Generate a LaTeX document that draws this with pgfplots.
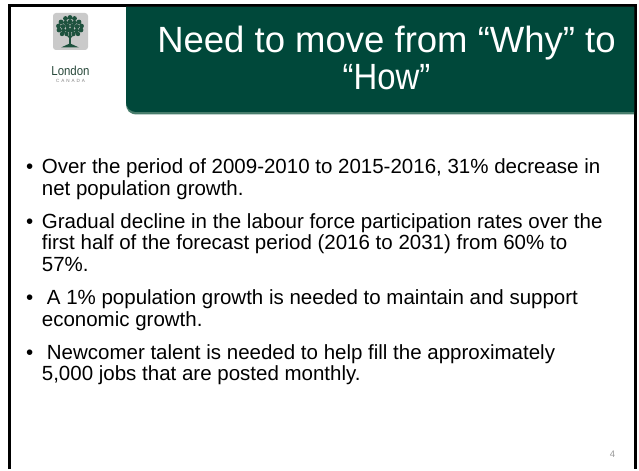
\documentclass[border=0pt]{standalone}
\usepackage{pgfplots}
\pgfplotsset{compat=1.18}
\usepackage{graphicx}
\usepackage{fontspec}
\setmainfont{Liberation Sans}
\definecolor{slidegreen}{RGB}{0,72,58}
\definecolor{slidegreenlight}{RGB}{72,125,108}
\definecolor{logogray}{RGB}{202,202,202}
\definecolor{treegreen}{RGB}{30,82,62}
\definecolor{logotext}{RGB}{40,72,58}
\begin{document}
\begin{tikzpicture}[x=1pt,y=1pt]
\begin{axis}[
  width=639pt, height=469pt, scale only axis,
  xmin=0, xmax=639, ymin=0, ymax=469, y dir=reverse,
  hide axis, clip=false,
]
\fill[white] (axis cs:0,0) rectangle (axis cs:639,469);
% slide frame
\draw[line width=3pt, black] (axis cs:9.5,469) -- (axis cs:9.5,5.5) -- (axis cs:635.5,5.5) -- (axis cs:635.5,469);
% title box
\fill[slidegreenlight] (axis cs:126,7) -- (axis cs:634,7) -- (axis cs:634,114.5) -- (axis cs:138,114.5)
   .. controls (axis cs:129.5,114.5) and (axis cs:126,111) .. (axis cs:126,102.5) -- cycle;
\fill[slidegreen] (axis cs:126,7) -- (axis cs:634,7) -- (axis cs:634,112) -- (axis cs:138,112)
   .. controls (axis cs:129.5,112) and (axis cs:126,108.5) .. (axis cs:126,100) -- cycle;
\node[white, font=\fontsize{36.5}{40}\selectfont, anchor=base, inner sep=0pt] at (axis cs:386.5,53) {Need to move from “Why” to};
\node[white, font=\fontsize{36.5}{40}\selectfont, anchor=base, inner sep=0pt] at (axis cs:386.5,89.5) {\scalebox{0.9}[1]{“How”}};
% logo
\fill[logogray, rounded corners=3pt] (axis cs:53,13) rectangle (axis cs:88,50);
\fill[treegreen] (axis cs:68.6,30) rectangle (axis cs:71.4,45);
\fill[treegreen] (axis cs:61,47.5) -- (axis cs:68.6,44) -- (axis cs:71.4,44) -- (axis cs:79,47.5) -- cycle;
\draw[treegreen, line width=1.2pt] (axis cs:70,38) -- (axis cs:63,31);
\draw[treegreen, line width=1.2pt] (axis cs:70,38) -- (axis cs:77,31);
\fill[treegreen] (axis cs:65.5,18.5) circle[radius=2.4pt];
\fill[treegreen] (axis cs:70,17.5) circle[radius=2.4pt];
\fill[treegreen] (axis cs:74.5,18.5) circle[radius=2.4pt];
\fill[treegreen] (axis cs:61,22) circle[radius=2.4pt];
\fill[treegreen] (axis cs:65.5,22.5) circle[radius=2.4pt];
\fill[treegreen] (axis cs:70,22) circle[radius=2.4pt];
\fill[treegreen] (axis cs:74.5,22.5) circle[radius=2.4pt];
\fill[treegreen] (axis cs:79,22) circle[radius=2.4pt];
\fill[treegreen] (axis cs:58.5,26) circle[radius=2.4pt];
\fill[treegreen] (axis cs:63,26.5) circle[radius=2.4pt];
\fill[treegreen] (axis cs:67.5,26) circle[radius=2.4pt];
\fill[treegreen] (axis cs:72.5,26) circle[radius=2.4pt];
\fill[treegreen] (axis cs:77,26.5) circle[radius=2.4pt];
\fill[treegreen] (axis cs:81.5,26) circle[radius=2.4pt];
\fill[treegreen] (axis cs:59,30) circle[radius=2.4pt];
\fill[treegreen] (axis cs:63.5,30.5) circle[radius=2.4pt];
\fill[treegreen] (axis cs:68,30) circle[radius=2.4pt];
\fill[treegreen] (axis cs:72,30) circle[radius=2.4pt];
\fill[treegreen] (axis cs:76.5,30.5) circle[radius=2.4pt];
\fill[treegreen] (axis cs:81,30) circle[radius=2.4pt];
\fill[treegreen] (axis cs:62,34) circle[radius=2.2pt];
\fill[treegreen] (axis cs:66.5,34) circle[radius=2.2pt];
\fill[treegreen] (axis cs:73.5,34) circle[radius=2.2pt];
\fill[treegreen] (axis cs:78,34) circle[radius=2.2pt];
\node[logotext, font=\fontsize{13}{14}\selectfont, anchor=base, inner sep=0pt] at (axis cs:70.5,75.5) {\scalebox{0.88}[1]{London}};
\node[gray, font=\fontsize{4.6}{5}\selectfont, anchor=base, inner sep=0pt] at (axis cs:70.5,83) {C\hspace{1.9pt}A\hspace{1.9pt}N\hspace{1.9pt}A\hspace{1.9pt}D\hspace{1.9pt}A};
% bullets
\node[anchor=base west, font=\fontsize{20.5}{22}\selectfont, inner sep=0pt] at (axis cs:26,173.5) {•};
\node[anchor=base west, font=\fontsize{20.5}{22}\selectfont, inner sep=0pt] at (axis cs:26,228.1) {•};
\node[anchor=base west, font=\fontsize{20.5}{22}\selectfont, inner sep=0pt] at (axis cs:26,304.5) {•};
\node[anchor=base west, font=\fontsize{20.5}{22}\selectfont, inner sep=0pt] at (axis cs:26,359.1) {•};
\node[anchor=base west, font=\fontsize{20.5}{22}\selectfont, inner sep=0pt] at (axis cs:41.7,173.5) {Over the period of 2009-2010 to 2015-2016, 31\% decrease in};
\node[anchor=base west, font=\fontsize{20.5}{22}\selectfont, inner sep=0pt] at (axis cs:41.7,195.3) {net population growth.};
\node[anchor=base west, font=\fontsize{20.5}{22}\selectfont, inner sep=0pt] at (axis cs:41.7,228.1) {Gradual decline in the labour force participation rates over the};
\node[anchor=base west, font=\fontsize{20.5}{22}\selectfont, inner sep=0pt] at (axis cs:41.7,249.9) {first half of the forecast period (2016 to 2031) from 60\% to};
\node[anchor=base west, font=\fontsize{20.5}{22}\selectfont, inner sep=0pt] at (axis cs:41.7,271.7) {57\%.};
\node[anchor=base west, font=\fontsize{20.5}{22}\selectfont, inner sep=0pt] at (axis cs:46.7,304.5) {A 1\% population growth is needed to maintain and support};
\node[anchor=base west, font=\fontsize{20.5}{22}\selectfont, inner sep=0pt] at (axis cs:41.7,326.3) {economic growth.};
\node[anchor=base west, font=\fontsize{20.5}{22}\selectfont, inner sep=0pt] at (axis cs:46.7,359.1) {Newcomer talent is needed to help fill the approximately};
\node[anchor=base west, font=\fontsize{20.5}{22}\selectfont, inner sep=0pt] at (axis cs:41.7,380.9) {5,000 jobs that are posted monthly.};
% page number
\node[black!40, font=\fontsize{9.5}{11}\selectfont, anchor=base, inner sep=0pt] at (axis cs:612.5,457.3) {4};
\end{axis}
\end{tikzpicture}
\end{document}
